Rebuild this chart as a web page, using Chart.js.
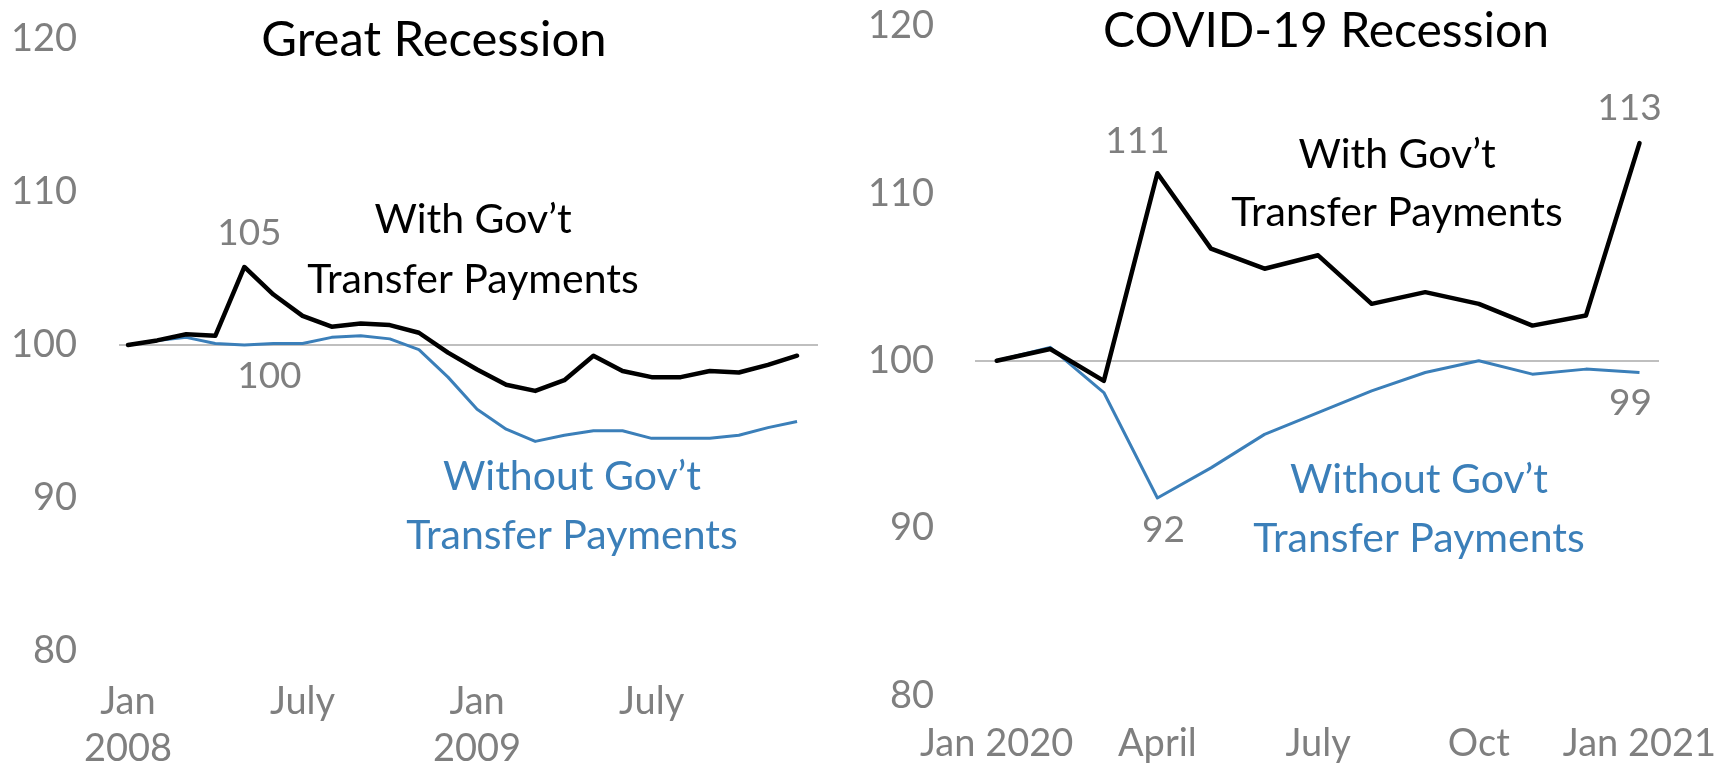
<!DOCTYPE html>
<html>
<head>
<meta charset="utf-8">
<title>Income with and without government transfer payments</title>
<script src="https://cdn.jsdelivr.net/npm/chart.js"></script>
<style>
  html, body { margin: 0; padding: 0; background: #fff; }
  .panel { position: absolute; top: 0; }
  #great-wrap { left: 0; }
  #covid-wrap { left: 866px; }
</style>
</head>
<body>
<div class="panel" id="great-wrap"><canvas id="great" width="866" height="767"></canvas></div>
<div class="panel" id="covid-wrap"><canvas id="covid" width="866" height="767"></canvas></div>
<script>
// Great Recession, monthly Jan 2008 - Dec 2009 (index, Jan 2008 = 100)
const greatMonths = [
  "Jan 2008", "Feb 2008", "Mar 2008", "Apr 2008", "May 2008", "Jun 2008",
  "Jul 2008", "Aug 2008", "Sep 2008", "Oct 2008", "Nov 2008", "Dec 2008",
  "Jan 2009", "Feb 2009", "Mar 2009", "Apr 2009", "May 2009", "Jun 2009",
  "Jul 2009", "Aug 2009", "Sep 2009", "Oct 2009", "Nov 2009", "Dec 2009"
];
const greatWith = [
  100.0, 100.3, 100.7, 100.6, 105.1, 103.3, 101.9, 101.2, 101.4, 101.3, 100.8, 99.5,
  98.4, 97.4, 97.0, 97.7, 99.3, 98.3, 97.9, 97.9, 98.3, 98.2, 98.7, 99.3
];
const greatWithout = [
  100.0, 100.3, 100.5, 100.1, 100.0, 100.1, 100.1, 100.5, 100.6, 100.4, 99.7, 97.9,
  95.8, 94.5, 93.7, 94.1, 94.4, 94.4, 93.9, 93.9, 93.9, 94.1, 94.6, 95.0
];
const greatTickIndex = [0, 6, 12, 18];
const greatTickLabels = [["Jan", "2008"], "July", ["Jan", "2009"], "July"];

// COVID-19 Recession, monthly Jan 2020 - Jan 2021
const covidMonths = [
  "Jan 2020", "Feb 2020", "Mar 2020", "Apr 2020", "May 2020", "Jun 2020", "Jul 2020",
  "Aug 2020", "Sep 2020", "Oct 2020", "Nov 2020", "Dec 2020", "Jan 2021"
];
const covidWith = [100.0, 100.7, 98.8, 111.2, 106.7, 105.5, 106.3, 103.4, 104.1, 103.4, 102.1, 102.7, 113.0];
const covidWithout = [100.0, 100.8, 98.1, 91.8, 93.6, 95.6, 96.9, 98.2, 99.3, 100.0, 99.2, 99.5, 99.3];
const covidTickIndex = [0, 3, 6, 9, 12];
const covidTickLabels = ["Jan 2020", "April", "July", "Oct", "Jan 2021"];

const yMin = 80;
const yMax = 120;
const yStep = 10;
const baseline = 100;

const FONT = "Lato, 'Noto Sans', sans-serif";
const GRAY = "#7f7f7f";
const BLUE = "#3b7fb9";
const CLEAR = "rgba(0,0,0,0)";

const toPoints = (values) => values.map((v, i) => ({ x: i, y: v }));

// titles, series names and rounded value callouts
const textPlugin = {
  id: "panelText",
  afterDatasetsDraw(chart, args, opts) {
    const ctx = chart.ctx;
    const xs = chart.scales.x;
    const ys = chart.scales.y;
    ctx.save();
    ctx.textAlign = "center";
    ctx.textBaseline = "alphabetic";
    opts.texts.forEach((t) => {
      ctx.font = t.size + "px " + FONT;
      ctx.fillStyle = t.color;
      ctx.fillText(t.text, t.x, t.y);
    });
    ctx.font = "37px " + FONT;
    ctx.fillStyle = GRAY;
    opts.values.forEach((v) => {
      const val = v.series[v.index];
      ctx.fillText(
        String(Math.round(val)),
        xs.getPixelForValue(v.index) + v.dx,
        ys.getPixelForValue(val) + v.dy
      );
    });
    ctx.restore();
  },
};

const makePanel = (canvasId, cfg) => {
  return new Chart(document.getElementById(canvasId), {
    type: "line",
    data: {
      labels: cfg.months,
      datasets: [
        {
          label: "With Gov't Transfer Payments",
          data: toPoints(cfg.withSeries),
          borderColor: "#000000",
          borderWidth: 4.5,
          borderJoinStyle: "round",
          borderCapStyle: "round",
          order: 0,
        },
        {
          label: "Without Gov't Transfer Payments",
          data: toPoints(cfg.withoutSeries),
          borderColor: BLUE,
          borderWidth: 3,
          borderJoinStyle: "round",
          order: 1,
        },
      ],
    },
    options: {
      responsive: false,
      animation: false,
      layout: { padding: cfg.padding },
      elements: { point: { radius: 0 }, line: { tension: 0 } },
      plugins: {
        legend: { display: false },
        tooltip: { enabled: false },
        panelText: { texts: cfg.texts, values: cfg.values },
      },
      scales: {
        x: {
          type: "linear",
          min: cfg.xMin,
          max: cfg.xMax,
          // invisible tick marks push the labels down without widening the padding
          grid: {
            display: true,
            drawOnChartArea: false,
            drawTicks: true,
            tickLength: cfg.xPad,
            color: CLEAR,
            tickColor: CLEAR,
          },
          border: { display: false },
          afterBuildTicks: (scale) => {
            scale.ticks = cfg.tickIndex.map((v) => ({ value: v }));
          },
          afterFit: (scale) => {
            scale.height = cfg.xHeight;
          },
          ticks: {
            color: GRAY,
            font: { family: FONT, size: 38, lineHeight: 1.22 },
            padding: 0,
            maxRotation: 0,
            autoSkip: false,
            callback: (value) => cfg.tickLabels[cfg.tickIndex.indexOf(value)],
          },
        },
        y: {
          min: yMin,
          max: yMax,
          border: { display: false },
          grid: {
            drawTicks: true,
            tickLength: cfg.yPad,
            tickColor: CLEAR,
            lineWidth: 2,
            color: (c) => (c.tick && c.tick.value === baseline ? "#bfbfbf" : CLEAR),
          },
          afterFit: (scale) => {
            scale.width = cfg.yWidth;
          },
          ticks: {
            stepSize: yStep,
            color: GRAY,
            padding: 0,
            font: { family: FONT, size: 38 },
          },
        },
      },
    },
    plugins: [textPlugin],
  });
};

makePanel("great", {
  months: greatMonths,
  withSeries: greatWith,
  withoutSeries: greatWithout,
  tickIndex: greatTickIndex,
  tickLabels: greatTickLabels,
  xMin: -0.31,
  xMax: 23.72,
  padding: { top: 39, right: 48, bottom: 0, left: 0 },
  yWidth: 119,
  yPad: 42,
  xHeight: 116,
  xPad: 28,
  texts: [
    { text: "Great Recession", x: 434, y: 56, size: 49, color: "#000" },
    { text: "With Gov\u2019t", x: 473, y: 233, size: 41, color: "#000" },
    { text: "Transfer Payments", x: 473, y: 293, size: 41, color: "#000" },
    { text: "Without Gov\u2019t", x: 572, y: 490, size: 41, color: BLUE },
    { text: "Transfer Payments", x: 572, y: 549, size: 41, color: BLUE },
  ],
  values: [
    { series: greatWith, index: 4, dx: 5, dy: -22 },
    { series: greatWithout, index: 4, dx: 25, dy: 43 },
  ],
});

makePanel("covid", {
  months: covidMonths,
  withSeries: covidWith,
  withoutSeries: covidWithout,
  tickIndex: covidTickIndex,
  tickLabels: covidTickLabels,
  xMin: -0.405,
  xMax: 12.364,
  padding: { top: 26, right: 73, bottom: 0, left: 0 },
  yWidth: 109,
  yPad: 41,
  xHeight: 71.5,
  xPad: 25,
  texts: [
    { text: "COVID-19 Recession", x: 460, y: 47, size: 48, color: "#000" },
    { text: "With Gov\u2019t", x: 531, y: 168, size: 41, color: "#000" },
    { text: "Transfer Payments", x: 531, y: 226, size: 41, color: "#000" },
    { text: "Without Gov\u2019t", x: 553, y: 493, size: 41, color: BLUE },
    { text: "Transfer Payments", x: 553, y: 552, size: 41, color: BLUE },
  ],
  values: [
    { series: covidWith, index: 3, dx: -20, dy: -20 },
    { series: covidWith, index: 12, dx: -10, dy: -23 },
    { series: covidWithout, index: 3, dx: 6, dy: 44 },
    { series: covidWithout, index: 12, dx: -9, dy: 43 },
  ],
});
</script>
</body>
</html>
